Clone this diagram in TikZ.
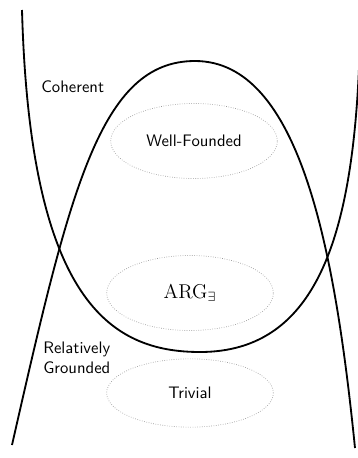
\documentclass[tikz,border=0pt]{standalone}
\usepackage{amsmath,amssymb}
\usepackage{tikz}
\usetikzlibrary{shapes.geometric}

\tikzset{
  region/.style={line width=1.1pt},
  cls/.style={ellipse, draw=gray!80, densely dotted, thin,
    minimum width=100pt, minimum height=45pt, font=\sffamily},
  tag/.style={font=\sffamily, align=left, anchor=west, inner sep=0pt}
}

\begin{document}
\begin{tikzpicture}[x=0.6pt, y=-0.6pt]
    \useasboundingbox (0,0) rectangle (358,458);

    % Coherent region (U shape)
    \coordinate (ctop) at (22,10);
    \coordinate (cbot) at (200,352);
    \coordinate (cend) at (360,40);
    \draw[region] (ctop) .. controls (30,300) and (110,352) .. (cbot)
        .. controls (320,352) and (355,230) .. (cend);

    % Relatively grounded region (arch)
    \coordinate (gl) at (12,445);
    \coordinate (gtop) at (195,61);
    \coordinate (gr) at (355,448);
    \draw[region] (gl) .. controls (70,190) and (100,61) .. (gtop)
        .. controls (300,61) and (335,250) .. (gr);

    % Classes
    \node[cls] (wf) at (194,141) {Well-Founded};
    \node[cls] (arg) at (190,293) {\large$\mathrm{ARG}_\exists$};
    \node[cls, minimum height=41pt] (triv) at (190,393) {Trivial};

    % Labels
    \node[tag] (coh) at (41,87) {Coherent};
    \node[tag] (rg) at (43,358) {Relatively\\Grounded};
\end{tikzpicture}
\end{document}
